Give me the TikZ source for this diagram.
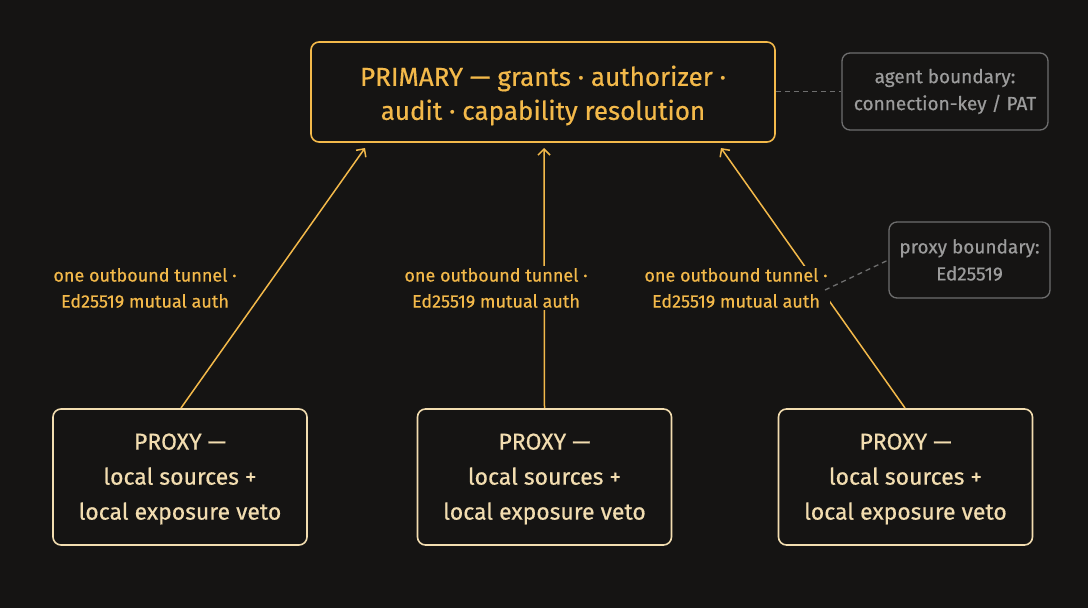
\documentclass[tikz,border=0pt]{standalone}
\usepackage{fontspec}
\setmainfont{Fira Sans}[FakeBold=0.5]
\usetikzlibrary{arrows.meta}
\definecolor{bg}{HTML}{151413}
\definecolor{prim}{HTML}{F3B94A}
\definecolor{prox}{HTML}{F2DDB0}
\definecolor{gtext}{HTML}{9C9C9C}
\definecolor{gline}{HTML}{6E6E6E}
\tikzset{
  primbox/.style={draw=prim, line width=1.6pt, rounded corners=8pt, fill=bg, minimum width=464pt, minimum height=100pt, inner sep=0pt},
  primtext/.style={text=prim, align=center, font=\fontsize{26}{34}\selectfont, inner sep=0pt},
  proxbox/.style={draw=prox, line width=1.6pt, rounded corners=8pt, fill=bg, minimum width=254pt, minimum height=136pt, inner sep=0pt},
  proxtext/.style={text=prox, align=center, font=\fontsize{23}{35}\selectfont, inner sep=0pt},
  notebox/.style={draw=gline, line width=1.3pt, rounded corners=8pt, fill=bg, text=gtext, align=center, font=\fontsize{19}{27}\selectfont, inner sep=0pt},
  lbl/.style={fill=bg, text=prim, align=center, font=\fontsize{18}{26}\selectfont, inner sep=2pt},
  link/.style={draw=prim, line width=1.5pt, -{Straight Barb[length=6pt,width=12pt,line width=1.5pt]}},
  dlink/.style={draw=gline, line width=1.3pt, dash pattern=on 5pt off 4pt}
}
\begin{document}
\begin{tikzpicture}[x=1pt,y=-1pt]
\fill[bg] (0,0) rectangle (1088,608);
\useasboundingbox (0,0) rectangle (1088,608);
\node[primbox] (P) at (543,92) {};
\node[primtext] (PT) at (543,95.5) {PRIMARY — grants · authorizer ·\\audit · capability resolution};
\node[notebox, minimum width=206pt, minimum height=77pt] (A) at (945,91.5) {agent boundary:\\connection-key / PAT};
\node[notebox, minimum width=161pt, minimum height=76pt] (B) at (969.5,260) {proxy boundary:\\Ed25519};
\node[proxbox] (X1) at (180,477) {};
\node[proxbox] (X2) at (544.5,477) {};
\node[proxbox] (X3) at (905.5,477) {};
\node[proxtext] (X1T) at (180,479) {PROXY —\\local sources +\\local exposure veto};
\node[proxtext] (X2T) at (544.5,479) {PROXY —\\local sources +\\local exposure veto};
\node[proxtext] (X3T) at (905.5,479) {PROXY —\\local sources +\\local exposure veto};
\coordinate (T1) at (365,148);
\coordinate (T2) at (544,148);
\coordinate (T3) at (721,148);
\draw[link] (181,408) -- (T1);
\draw[link] (X2.north) -- (T2);
\draw[link] (905,408) -- (T3);
\node[lbl] (L1) at (145,288) {one outbound tunnel ·\\Ed25519 mutual auth};
\node[lbl] (L2) at (496,288) {one outbound tunnel ·\\Ed25519 mutual auth};
\node[lbl] (L3) at (736,288) {one outbound tunnel ·\\Ed25519 mutual auth};
\draw[dlink] (P.east |- A.west) -- (A.west);
\coordinate (D3) at (825,290);
\draw[dlink] (D3) -- (B.west);
\end{tikzpicture}
\end{document}
